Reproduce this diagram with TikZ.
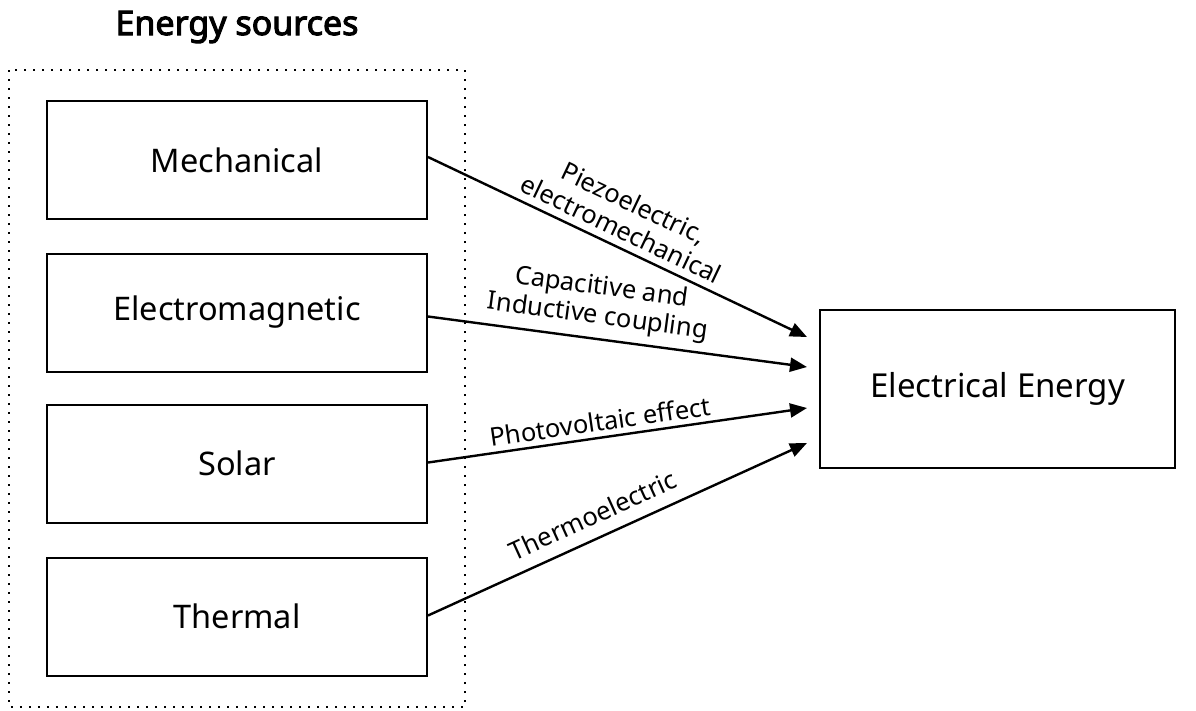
\documentclass[tikz,border=0pt]{standalone}
\usepackage{fontspec}
\setmainfont{Noto Sans}[AutoFakeBold=3]
\usetikzlibrary{arrows.meta}
\begin{document}
\begin{tikzpicture}[x=1pt,y=-1pt,
  srcbox/.style={draw, line width=2pt, minimum width=380pt, minimum height=118pt, inner sep=0pt, font=\fontsize{32.5}{38}\selectfont},
  conn/.style={line width=2.4pt, -{Triangle[length=17pt,width=14pt]}},
  lab/.style={font=\fontsize{25.5}{29}\selectfont, align=center, inner sep=2pt}
]
\useasboundingbox (0,0) rectangle (1196,710);
\node[font=\fontsize{34}{40}\selectfont\bfseries] (title) at (237,27) {Energy sources};
\draw[line width=1.8pt, dash pattern=on 1.8pt off 7.2pt] (9,70) rectangle (465,707);
\node[srcbox] (mech) at (237,160) {Mechanical};
\node[srcbox] (em) at (237,312.5) {Electromagnetic};
\node[srcbox] (sol) at (237,463.5) {Solar};
\node[srcbox] (th) at (237,616.5) {Thermal};
\node[draw, line width=2pt, minimum width=355pt, minimum height=158pt, inner sep=0pt, font=\fontsize{33}{38}\selectfont] (ee) at (997.5,389) {Electrical Energy};
\coordinate (t1) at (807,337);
\coordinate (t2) at (807,367);
\coordinate (t3) at (807,408);
\coordinate (t4) at (807,443);
\draw[conn] (mech.east) ++(0,-3) coordinate (s1) -- (t1) node[lab, pos=0.49, above=5pt, sloped] {Piezoelectric,\\electromechanical};
\draw[conn] (em.east) ++(0,4) coordinate (s2) -- (t2) node[lab, pos=0.44, above=6pt, sloped] {Capacitive and\\Inductive coupling};
\draw[conn] (sol.east) ++(0,-1) coordinate (s3) -- (t3) node[lab, pos=0.46, above=3pt, sloped] {Photovoltaic effect};
\draw[conn] (th.east) ++(0,-1) coordinate (s4) -- (t4) node[lab, pos=0.46, above=10pt, sloped] {Thermoelectric};
\end{tikzpicture}
\end{document}
